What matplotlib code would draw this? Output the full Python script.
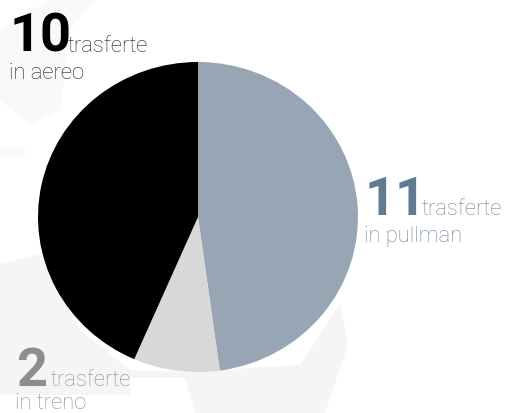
import matplotlib
matplotlib.use('Agg')
import matplotlib.pyplot as plt
from matplotlib.patches import Polygon

counts = [11, 2, 10]
big_labels = ['11', '2', '10']
line1 = ['trasferte', 'trasferte', 'trasferte']
line2 = ['in pullman', 'in treno', 'in aereo']
slice_colors = ['#98a5b5', '#d8d8d8', '#000000']
text_colors = ['#5f7a92', '#8e8e8e', '#000000']
small_colors = ['#6f889e', '#8e8e8e', '#222222']

plt.rcParams['font.family'] = ['Roboto', 'DejaVu Sans']

W, H = 505, 413
# the pie in the picture is a bit squashed: 320 wide, 310 tall
squash = 160 / 155

fig = plt.figure(figsize=(W / 100, H / 100), dpi=100)
ax = fig.add_axes([0, 0, 1, 1])

def py(y):
    return (H - y) * squash

# faint map shapes in the background
blobs = [
    ([(0, 264), (40, 254), (80, 330), (130, 370), (190, 372), (300, 365), (340, 304), (348, 345), (325, 413), (195, 413), (185, 378), (130, 378), (130, 395), (0, 395)], '#f5f5f5'),
    ([(0, 30), (50, 0), (95, 0), (70, 30), (60, 110), (30, 125), (0, 100)], '#f9f9f9'),
    ([(0, 147), (25, 147), (25, 156), (0, 156)], '#f9f9f9'),
]
for b, c in blobs:
    ax.add_patch(Polygon([(x, py(y)) for x, y in b], closed=True, fc=c, ec='none', zorder=0))

ax.pie(counts, colors=slice_colors, startangle=90, counterclock=False,
       center=(198, py(217)), radius=160, frame=True,
       wedgeprops={'linewidth': 0})
ax.set_xlim(0, W)
ax.set_ylim(0, py(0))
ax.set_aspect('auto')
ax.axis('off')

big_xy = [(365, 215), (16, 386), (10, 52)]
small_xy = [(422, 215), (51, 386), (68, 52)]
second_xy = [(364, 242), (15, 409), (9, 79)]

for i in range(3):
    ax.text(big_xy[i][0], py(big_xy[i][1]), big_labels[i], fontsize=39, fontweight='bold',
            color=text_colors[i], va='baseline', ha='left')
    ax.text(small_xy[i][0], py(small_xy[i][1]), line1[i], fontsize=15.8, fontweight='light',
            color=small_colors[i], va='baseline', ha='left')
    ax.text(second_xy[i][0], py(second_xy[i][1]), line2[i], fontsize=15.8, fontweight='light',
            color=small_colors[i], va='baseline', ha='left')

fig.savefig('out.png', dpi=100)
